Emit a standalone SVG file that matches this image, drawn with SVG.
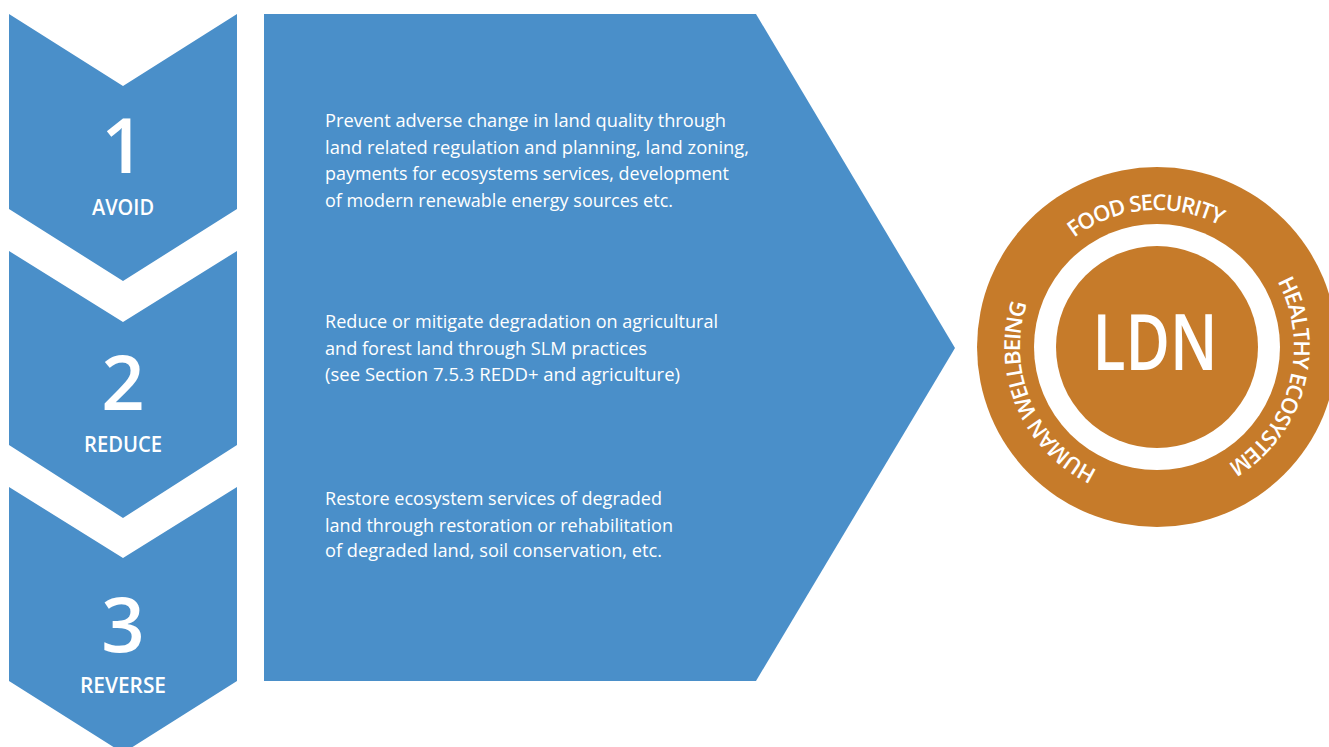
<svg xmlns="http://www.w3.org/2000/svg" xmlns:xlink="http://www.w3.org/1999/xlink" width="1329" height="747" viewBox="0 0 1329 747">
<style>
.blue{fill:#4a8fc9}
.orange{fill:#c67b2a}
.num{font-family:"Open Sans","Liberation Sans",sans-serif;font-weight:600;font-size:76px;fill:#fff;text-anchor:middle}
.lab{font-family:"Open Sans","Liberation Sans",sans-serif;font-weight:600;font-size:21px;fill:#fff;text-anchor:middle}
.body{font-family:"Open Sans","Liberation Sans",sans-serif;font-size:19px;fill:#fff}
.ring{font-family:"Open Sans","Liberation Sans",sans-serif;font-weight:600;font-size:22px;letter-spacing:-1.2px;fill:#fff;text-anchor:middle}
.ldn{font-family:"Open Sans","Liberation Sans",sans-serif;font-weight:600;font-size:77px;fill:#fff;text-anchor:middle}
</style>
<defs>
<path id="ringPath" d="M1157,484 A137,137 0 1 1 1157,210 A137,137 0 1 1 1157,484"/>
</defs>
<rect width="1329" height="747" fill="#fff"/>
<g id="step1">
<polygon class="blue" points="9,14 123,86 237,14 237,209 123,281 9,209"/>
<text class="num" x="123" y="173">1</text>
<text class="lab" x="123" y="215" textLength="62" lengthAdjust="spacingAndGlyphs">AVOID</text>
</g>
<g id="step2">
<polygon class="blue" points="9,251 123,322 237,251 237,445 123,518 9,445"/>
<text class="num" x="123" y="410">2</text>
<text class="lab" x="123" y="452" textLength="78" lengthAdjust="spacingAndGlyphs">REDUCE</text>
</g>
<g id="step3">
<polygon class="blue" points="9,487 123,558 237,487 237,681 123,753 9,681"/>
<text class="num" x="123" y="652">3</text>
<text class="lab" x="123" y="693" textLength="86" lengthAdjust="spacingAndGlyphs">REVERSE</text>
</g>
<g id="actions">
<polygon class="blue" points="264,14 756,14 955,348 756,681 264,681"/>
<text class="body">
<tspan x="325" y="127" textLength="401" lengthAdjust="spacingAndGlyphs">Prevent adverse change in land quality through</tspan>
<tspan x="325" y="154" textLength="424" lengthAdjust="spacingAndGlyphs">land related regulation and planning, land zoning,</tspan>
<tspan x="325" y="180" textLength="404" lengthAdjust="spacingAndGlyphs">payments for ecosystems services, development</tspan>
<tspan x="325" y="207" textLength="348" lengthAdjust="spacingAndGlyphs">of modern renewable energy sources etc.</tspan>
</text>
<text class="body">
<tspan x="325" y="328" textLength="393" lengthAdjust="spacingAndGlyphs">Reduce or mitigate degradation on agricultural</tspan>
<tspan x="325" y="355" textLength="322" lengthAdjust="spacingAndGlyphs">and forest land through SLM practices</tspan>
<tspan x="325" y="381" textLength="355" lengthAdjust="spacingAndGlyphs">(see Section 7.5.3 REDD+ and agriculture)</tspan>
</text>
<text class="body">
<tspan x="325" y="505" textLength="337" lengthAdjust="spacingAndGlyphs">Restore ecosystem services of degraded</tspan>
<tspan x="325" y="532" textLength="348" lengthAdjust="spacingAndGlyphs">land through restoration or rehabilitation</tspan>
<tspan x="325" y="557" textLength="337" lengthAdjust="spacingAndGlyphs">of degraded land, soil conservation, etc.</tspan>
</text>
</g>
<g id="ldn">
<circle class="orange" cx="1157" cy="347" r="180"/>
<circle cx="1157" cy="347" r="123" fill="#fff"/>
<circle class="orange" cx="1157" cy="347" r="101"/>
<text class="ldn" x="1155" y="370" textLength="125" lengthAdjust="spacingAndGlyphs">LDN</text>
<text class="ring"><textPath xlink:href="#ringPath" href="#ringPath" startOffset="160">HUMAN WELLBEING</textPath></text>
<text class="ring"><textPath xlink:href="#ringPath" href="#ringPath" startOffset="418">FOOD SECURITY</textPath></text>
<text class="ring"><textPath xlink:href="#ringPath" href="#ringPath" startOffset="681">HEALTHY ECOSYSTEM</textPath></text>
</g>
</svg>
